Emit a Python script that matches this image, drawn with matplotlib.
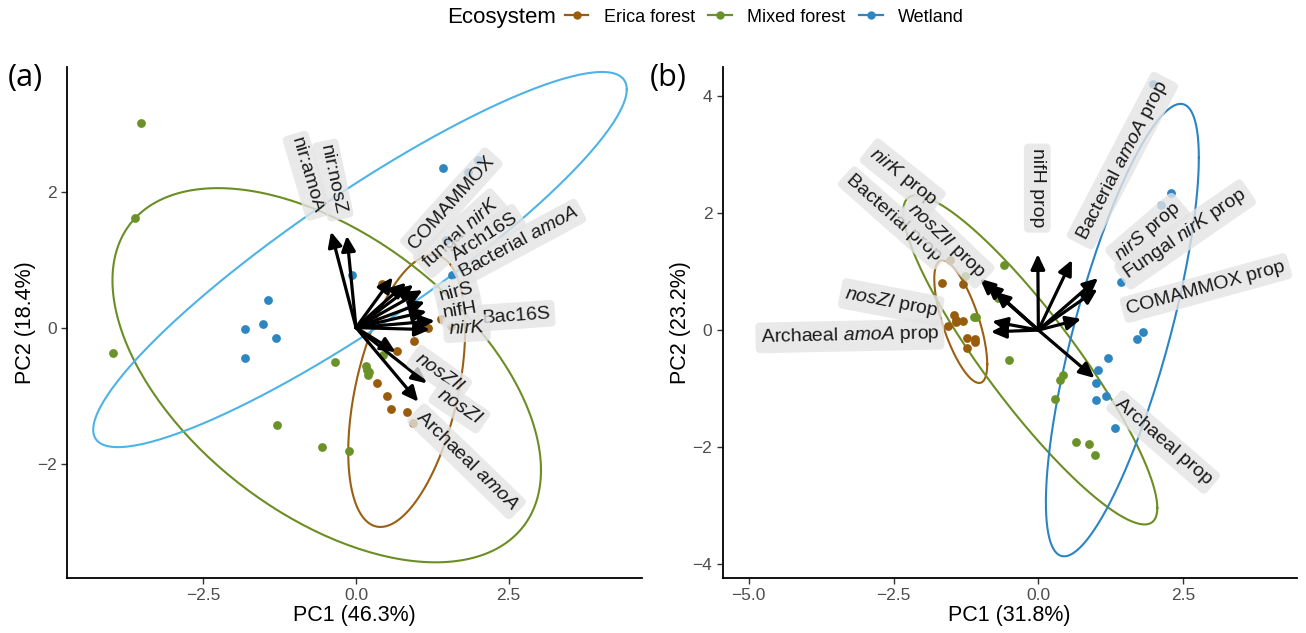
import numpy as np
import matplotlib.pyplot as plt
from matplotlib.lines import Line2D

plt.rcParams["font.family"] = ["Liberation Sans", "DejaVu Sans"]
plt.rcParams["mathtext.fontset"] = "custom"
plt.rcParams["mathtext.rm"] = "Liberation Sans"
plt.rcParams["mathtext.it"] = "Liberation Sans:italic"

groups = ["Erica forest", "Mixed forest", "Wetland"]

# ---- panel (a): sample scores ----
a_pc1 = [0.42, 1.18, 1.40, 1.55, 0.95, 0.67, 0.34, 0.51, 0.58, 0.84, 0.94,
         -3.53, -3.62, -3.98, -0.34, -1.29, -0.56, -0.12, 0.44, 0.17, 0.18, 0.22, 0.20,
         1.43, 1.99, 1.84, 1.48, 1.58, -0.06, -1.44, -1.52, -1.82, -1.31, -1.82]
a_pc2 = [0.64, -0.01, 0.12, 0.02, -0.19, -0.34, -0.81, -1.01, -1.20, -1.24, -1.40,
         3.01, 1.61, -0.38, -0.50, -1.43, -1.76, -1.81, -0.40, -0.57, -0.63, -0.65, -0.69,
         2.35, 2.47, 2.29, 1.29, 0.77, 0.78, 0.40, 0.06, -0.02, -0.16, -0.45]
a_group = ["Erica forest"] * 11 + ["Mixed forest"] * 12 + ["Wetland"] * 11

# ---- panel (b): sample scores ----
b_pc1 = [-1.67, -1.30, -1.46, -1.42, -1.43, -1.30, -1.56, -1.24, -1.10, -1.09, -1.23, -1.52,
         -0.60, -0.69, -1.27, -1.12, -1.08, -0.51, 0.43, 0.38, 0.28, 0.65, 0.88, 0.97,
         2.29, 2.12, 1.42, 1.81, 1.71, 1.20, 1.03, 0.99, 1.17, 0.99, 1.33, 1.98]
b_pc2 = [0.81, 0.79, 0.26, 0.18, 0.13, 0.16, 0.07, -0.13, -0.15, -0.20, -0.31, 1.20,
         1.12, 0.55, 0.92, 0.22, 0.22, -0.51, -0.76, -0.86, -1.18, -1.91, -1.94, -2.14,
         2.35, 2.14, 0.83, -0.03, -0.15, -0.48, -0.69, -0.90, -1.12, -1.20, -1.67, 4.21]
b_group = ["Erica forest"] * 12 + ["Mixed forest"] * 12 + ["Wetland"] * 12

# ---- 95% ellipses: centre and shape matrix [sxx, sxy, syy] ----
a_ell_center = {"Erica forest": (0.83, -0.93), "Mixed forest": (-0.48, -0.70), "Wetland": (0.065, 1.00)}
a_ell_shape = {"Erica forest": (0.917, 0.859, 4.0), "Mixed forest": (12.32, -4.90, 7.56),
               "Wetland": (19.10, 10.93, 7.60)}
b_ell_center = {"Erica forest": (-1.34, 0.146), "Mixed forest": (-0.14, -0.51), "Wetland": (1.45, 0.0)}
b_ell_shape = {"Erica forest": (0.209, -0.333, 1.103), "Mixed forest": (4.81, -5.55, 7.92),
               "Wetland": (1.743, 3.89, 14.97)}

# ---- loadings (arrow tips) and their labels ----
a_vars = ["nir:amoA", "nir:nosZ", "COMAMMOX", r"fungal $\mathit{nirK}$", "Arch16S",
          r"Bacterial $\mathit{amoA}$", "nirS", "nifH", "Bac16S", r"$\mathit{nirK}$",
          r"$\mathit{nosZII}$", r"$\mathit{nosZI}$", r"Archaeal $\mathit{amoA}$"]
a_load_x = [-0.41, -0.15, 0.60, 0.82, 0.94, 1.09, 1.13, 1.16, 1.29, 1.21, 0.65, 1.16, 1.02]
a_load_y = [1.41, 1.35, 0.74, 0.66, 0.63, 0.55, 0.38, 0.24, 0.10, -0.03, -0.36, -0.82, -1.09]
a_lab_x = [-0.62, -0.26, 0.91, 1.13, 1.59, 1.70, 1.37, 1.43, 2.06, 1.51, 0.99, 1.35, 1.02]
a_lab_y = [1.68, 1.66, 1.19, 0.92, 1.04, 0.78, 0.46, 0.21, 0.14, -0.03, -0.43, -0.96, -1.28]
a_lab_angle = [-73.5, -78, 48, 41.6, 32.7, 28.3, 15, 10, 4, 3, -35.5, -34, -44]

b_vars = ["nifH prop", r"Bacterial $\mathit{amoA}$ prop", r"$\mathit{nirS}$ prop",
          r"Fungal $\mathit{nirK}$ prop", "COMAMMOX prop", "Archaeal prop",
          r"$\mathit{nirK}$ prop", "Bacterial prop", r"$\mathit{nosZII}$ prop",
          r"$\mathit{nosZI}$ prop", r"Archaeal $\mathit{amoA}$ prop"]
b_load_x = [-0.01, 0.58, 1.03, 1.02, 0.74, 0.97, -1.01, -0.90, -0.75, -0.80, -0.82]
b_load_y = [1.30, 1.20, 0.89, 0.70, 0.19, -0.82, 0.88, 0.80, 0.66, 0.15, -0.03]
b_lab_x = [-0.02, 0.74, 1.36, 1.50, 1.53, 1.36, -1.80, -1.71, -0.97, -1.74, -1.71]
b_lab_y = [1.75, 1.55, 1.23, 0.93, 0.35, -1.23, 2.19, 1.23, 0.93, 0.32, -0.07]
b_lab_angle = [-90, 62.4, 40.5, 34.6, 15.3, -41, -38.7, -41.6, -43.6, -10.9, 1.2]

point_colors = {"Erica forest": "#995C0C", "Mixed forest": "#6B9228", "Wetland": "#2E86C1"}
a_ell_colors = {"Erica forest": "#9B5F12", "Mixed forest": "#6B8E23", "Wetland": "#4CB3E6"}
b_ell_colors = {"Erica forest": "#9B5F12", "Mixed forest": "#6B8E23", "Wetland": "#2A84C4"}


def ellipse_xy(center, shape, n=240):
    sxx, sxy, syy = shape
    chol = np.linalg.cholesky(np.array([[sxx, sxy], [sxy, syy]]))
    t = np.linspace(0, 2 * np.pi, n)
    pts = chol @ np.vstack([np.cos(t), np.sin(t)])
    return center[0] + pts[0], center[1] + pts[1]


def draw_biplot(ax, pc1, pc2, grp, ell_center, ell_shape, ell_colors,
                vars_, lx, ly, tx, ty, tang):
    pc1 = np.asarray(pc1)
    pc2 = np.asarray(pc2)
    grp = np.asarray(grp)
    for g in groups:
        m = grp == g
        ax.scatter(pc1[m], pc2[m], s=40, color=point_colors[g], zorder=3, linewidths=0)
        ex, ey = ellipse_xy(ell_center[g], ell_shape[g])
        ax.plot(ex, ey, color=ell_colors[g], lw=1.5, zorder=2)
    for x, y in zip(lx, ly):
        ax.annotate("", xy=(x, y), xytext=(0, 0),
                    arrowprops=dict(arrowstyle="-|>,head_length=0.6,head_width=0.28",
                                    mutation_scale=15, lw=2.3, color="black",
                                    shrinkA=0, shrinkB=0), zorder=4)
    for name, x, y, ang, ldx in zip(vars_, tx, ty, tang, lx):
        ax.text(x, y, name, rotation=ang, rotation_mode="anchor",
                ha="left" if ldx > 0 else "right", va="center",
                fontsize=14, color="#1A1A1A", zorder=5,
                bbox=dict(boxstyle="round,pad=0.25,rounding_size=0.25",
                          fc="#E4E4E4", ec="none", alpha=0.8))
    for side in ["top", "right"]:
        ax.spines[side].set_visible(False)
    for side in ["left", "bottom"]:
        ax.spines[side].set_linewidth(1.3)
    ax.tick_params(length=4, width=1, colors="#333333", labelsize=12.5,
                   labelcolor="#4D4D4D")


fig = plt.figure(figsize=(13.06, 6.33), dpi=100)

ax_a = fig.add_axes([0.05153, 0.08689, 0.43982, 0.80727])
draw_biplot(ax_a, a_pc1, a_pc2, a_group, a_ell_center, a_ell_shape, a_ell_colors,
            a_vars, a_load_x, a_load_y, a_lab_x, a_lab_y, a_lab_angle)
ax_a.set_xlim(-4.73, 4.68)
ax_a.set_ylim(-3.68, 3.83)
ax_a.set_xticks([-2.5, 0, 2.5])
ax_a.set_xticklabels(["\u22122.5", "0.0", "2.5"])
ax_a.set_yticks([-2, 0, 2])
ax_a.set_yticklabels(["\u22122", "0", "2"])
ax_a.set_xlabel("PC1 (46.3%)", fontsize=15.5, labelpad=1)
ax_a.set_ylabel("PC2 (18.4%)", fontsize=15.5, labelpad=1)

ax_b = fig.add_axes([0.55337, 0.08689, 0.43951, 0.80727])
draw_biplot(ax_b, b_pc1, b_pc2, b_group, b_ell_center, b_ell_shape, b_ell_colors,
            b_vars, b_load_x, b_load_y, b_lab_x, b_lab_y, b_lab_angle)
ax_b.set_xlim(-5.45, 4.46)
ax_b.set_ylim(-4.24, 4.5)
ax_b.set_xticks([-5, -2.5, 0, 2.5])
ax_b.set_xticklabels(["\u22125.0", "\u22122.5", "0.0", "2.5"])
ax_b.set_yticks([-4, -2, 0, 2, 4])
ax_b.set_yticklabels(["\u22124", "\u22122", "0", "2", "4"])
ax_b.set_xlabel("PC1 (31.8%)", fontsize=15.5, labelpad=1)
ax_b.set_ylabel("PC2 (23.2%)", fontsize=15.5, labelpad=1)

fig.text(8 / 1306, 1 - 78 / 633, "(a)", fontsize=22, va="center", family="Open Sans")
fig.text(650 / 1306, 1 - 78 / 633, "(b)", fontsize=22, va="center", family="Open Sans")

# legend across the top
fig.text(447 / 1306, 1 - 17 / 633, "Ecosystem", fontsize=16, va="center")
handles = [Line2D([0], [0], color=point_colors[g], lw=1.6, marker="o", ms=5) for g in groups]
fig.legend(handles, groups, loc="center left", bbox_to_anchor=(565 / 1306, 1 - 17 / 633),
           ncol=3, frameon=False, fontsize=13, handlelength=1.3, handletextpad=0.85,
           columnspacing=0.75, borderpad=0, borderaxespad=0)

fig.savefig("out.png", dpi=100)
